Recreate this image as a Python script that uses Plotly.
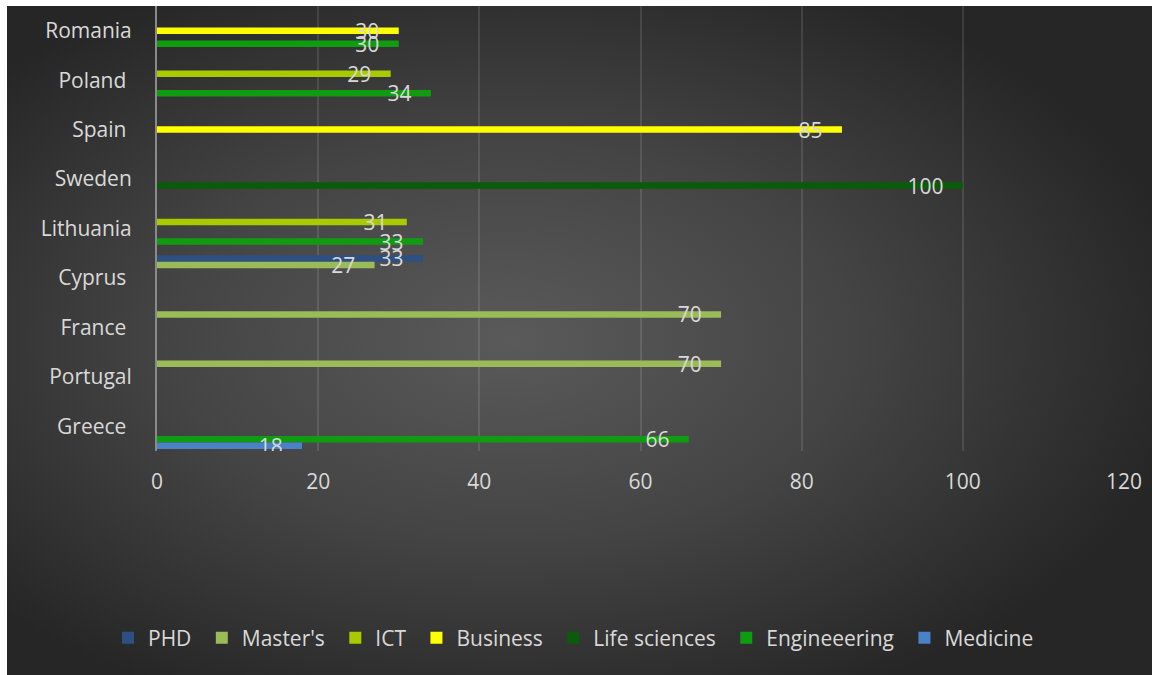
import base64
import plotly.graph_objects as go

# Countries, listed top to bottom (some source labels carry a trailing space)
countries = ["Romania", "Poland\u00a0", "Spain\u00a0", "Sweden", "Lithuania",
             "Cyprus\u00a0", "France\u00a0", "Portugal", "Greece\u00a0"]

# Values per field of study (None = no bar)
phd = [None, None, None, None, None, 33, None, None, None]
masters = [None, None, None, None, None, 27, 70, 70, None]
ict = [None, 29, None, None, 31, None, None, None, None]
business = [30, None, 85, None, None, None, None, None, None]
life_sciences = [None, None, None, 100, None, None, None, None, None]
engineering = [30, 34, None, None, 33, None, None, None, 66]
medicine = [None, None, None, None, None, None, None, None, 18]

series_names = ["PHD", "Master's", "ICT", "Business", "Life sciences",
                "Engineeering", "Medicine"]
series_values = [phd, masters, ict, business, life_sciences, engineering, medicine]
series_colors = ["#2d4f82", "#9bbb59", "#a8cb00", "#ffff00", "#0a5c0a",
                 "#109c10", "#4a82c8"]

x_ticks = [0, 20, 40, 60, 80, 100, 120]

W, H = 1152, 675
ML, MR, MT, MB = 157, 28, 6, 224
FONT = "Open Sans"
FS = 21
TXT = "#d9d9d9"
NB = "\u00a0"

fig = go.Figure()
for name, vals, col in zip(series_names, series_values, series_colors):
    fig.add_trace(go.Bar(
        y=countries, x=vals, name=name + NB, orientation="h",
        marker=dict(color=col, line=dict(width=0)),
        text=[None if v is None else f"{v}" + NB * 3 for v in vals],
        textposition="inside", insidetextanchor="end",
        constraintext="none",
        textfont=dict(color=TXT, size=FS, family=FONT),
        hoverinfo="x+y+name",
    ))

# radial gradient backdrop for the chart area
bg_w, bg_h = W - 7, H - MT
svg = (
    f'<svg xmlns="http://www.w3.org/2000/svg" width="{bg_w}" height="{bg_h}">'
    '<defs><radialGradient id="g" cx="0.44" cy="0.5" r="0.6">'
    '<stop offset="0" stop-color="#5a5a5a"/>'
    '<stop offset="0.5" stop-color="#444444"/>'
    '<stop offset="1" stop-color="#262626"/>'
    '</radialGradient></defs>'
    '<rect width="100%" height="100%" fill="url(#g)"/></svg>'
)
src = "data:image/svg+xml;base64," + base64.b64encode(svg.encode()).decode()
pw, ph = W - ML - MR, H - MT - MB

fig.update_layout(
    width=W, height=H,
    margin=dict(l=ML, r=MR, t=MT, b=MB, pad=0),
    paper_bgcolor="white",
    plot_bgcolor="rgba(0,0,0,0)",
    barmode="group", bargap=0.08, bargroupgap=0,
    font=dict(family=FONT, color=TXT, size=FS),
    images=[dict(source=src, xref="paper", yref="paper",
                 x=(7 - ML) / pw, y=1, sizex=bg_w / pw, sizey=bg_h / ph,
                 xanchor="left", yanchor="top", sizing="stretch",
                 layer="below")],
    xaxis=dict(range=[0, 120], tickvals=x_ticks, showgrid=True,
               gridcolor="rgba(255,255,255,0.11)", gridwidth=1.5,
               zeroline=False, showline=False, ticks="",
               ticklabelstandoff=16,
               tickfont=dict(size=FS, color=TXT, family=FONT)),
    yaxis=dict(categoryorder="array", categoryarray=countries,
               autorange="reversed", showgrid=False, zeroline=False,
               showline=True, linecolor="#8a8a8a", linewidth=2,
               ticks="", ticklabelstandoff=19,
               tickfont=dict(size=FS, color=TXT, family=FONT)),
    legend=dict(orientation="h", x=0.5, xanchor="center",
                xref="container", y=(H - 638) / H, yref="container",
                yanchor="middle", font=dict(size=FS, color=TXT, family=FONT),
                bgcolor="rgba(0,0,0,0)", itemclick=False, itemdoubleclick=False),
    showlegend=True,
)

fig.write_html("out.html")
